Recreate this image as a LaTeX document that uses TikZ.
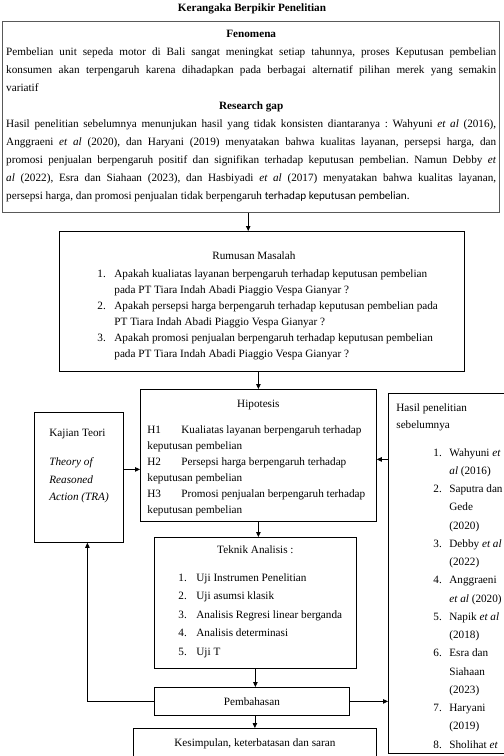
\documentclass[tikz,border=0pt]{standalone}
\usepackage{fontspec}
\setmainfont{Liberation Serif}
\newfontfamily\calibrifont{Carlito}
\usetikzlibrary{arrows.meta,positioning,calc}
\frenchspacing

% font size with a chosen line pitch
\newcommand{\setskip}[1]{\fontsize{11.2}{#1}\selectfont}
% fixed-size text body of a box (width, height, content)
\newcommand{\boxbody}[3]{\parbox[c][#2][t]{#1}{#3}}

\tikzset{
  panel/.style={draw, line width=0.8pt, anchor=north west, inner sep=0pt},
  arr/.style={-{Triangle[length=5pt,width=4.5pt]}, line width=0.8pt},
}

\begin{document}
\begin{tikzpicture}[x=1pt, y=-1pt, every node/.style={font=\setskip{16}}]
\useasboundingbox (0,0) rectangle (504,756);
\clip (0,0) rectangle (504,756);

% =================== title ===================
\node[font=\setskip{16}\bfseries] (title) at (252,9) {Kerangaka Berpikir Penelitian};

% =================== Fenomena / research gap ===================
\node[panel, draw=black!65, line width=1.4pt, inner xsep=3.5pt] (fen) at (2,21) {\boxbody{490pt}{191pt}{\setskip{18}\vspace*{8pt}%
{\centering\bfseries Fenomena\par}
Pembelian unit sepeda motor di Bali sangat meningkat setiap tahunnya, proses Keputusan pembelian\linebreak
konsumen akan terpengaruh karena dihadapkan pada berbagai alternatif pilihan merek yang semakin\linebreak
variatif\par
{\centering\bfseries Research gap\par}
Hasil penelitian sebelumnya menunjukan hasil yang tidak konsisten diantaranya : Wahyuni \textit{et al} (2016),\linebreak
Anggraeni \textit{et al} (2020), dan Haryani (2019) menyatakan bahwa kualitas layanan, persepsi harga, dan\linebreak
promosi penjualan berpengaruh positif dan signifikan terhadap keputusan pembelian. Namun Debby \textit{et}\linebreak
\textit{al} (2022), Esra dan Siahaan (2023), dan Hasbiyadi \textit{et al} (2017) menyatakan bahwa kualitas layanan,\linebreak
persepsi harga, dan promosi penjualan tidak berpengaruh {\calibrifont terhadap keputusan pembelian.}\par}};

% =================== Rumusan Masalah ===================
\node[panel] (rum) at (59,231) {\boxbody{405pt}{140pt}{\setskip{16}\vspace*{20pt}%
{\centering\hspace*{-16pt}Rumusan Masalah\par}
\vspace{2pt}
\hspace*{38pt}\makebox[17pt][l]{1.}Apakah kualiatas layanan berpengaruh terhadap keputusan pembelian\\
\hspace*{55pt}pada PT Tiara Indah Abadi Piaggio Vespa Gianyar ?\\
\hspace*{38pt}\makebox[17pt][l]{2.}Apakah persepsi harga berpengaruh terhadap keputusan pembelian pada\\
\hspace*{55pt}PT Tiara Indah Abadi Piaggio Vespa Gianyar ?\\
\hspace*{38pt}\makebox[17pt][l]{3.}Apakah promosi penjualan berpengaruh terhadap keputusan pembelian\\
\hspace*{55pt}pada PT Tiara Indah Abadi Piaggio Vespa Gianyar ?\par}};

% =================== Hipotesis ===================
\node[panel] (hip) at (140,389) {\boxbody{236pt}{132pt}{\setskip{16}\vspace*{11pt}%
{\centering Hipotesis\par}
\vspace{10pt}
\hspace*{7pt}\makebox[34pt][l]{H1}Kualiatas layanan berpengaruh terhadap\\
\hspace*{7pt}keputusan pembelian\\
\hspace*{7pt}\makebox[34pt][l]{H2}Persepsi harga berpengaruh terhadap\\
\hspace*{7pt}keputusan pembelian\\
\hspace*{7pt}\makebox[34pt][l]{H3}Promosi penjualan berpengaruh terhadap\\
\hspace*{7pt}keputusan pembelian\par}};

% =================== Kajian Teori (left) ===================
\node[panel] (kaj) at (34,412) {\boxbody{89pt}{130pt}{\setskip{17.5}\vspace*{17pt}%
\hspace*{15pt}Kajian Teori\par
\vspace{11.5pt}
\itshape
\hspace*{15pt}Theory of\\
\hspace*{15pt}Reasoned\\
\hspace*{15pt}Action (TRA)\par}};

% =================== Hasil penelitian sebelumnya (right) ===================
\node[panel] (has) at (388,393) {\boxbody{127pt}{360pt}{\setskip{17}\vspace*{10pt}%
\hspace*{8pt}Hasil penelitian\\
\hspace*{8pt}sebelumnya\par
\vspace{9.75pt}
\setskip{18.25}
\hspace*{45pt}\makebox[16pt][l]{1.}Wahyuni \textit{et}\\
\hspace*{61pt}\textit{al} (2016)\\
\hspace*{45pt}\makebox[16pt][l]{2.}Saputra dan\\
\hspace*{61pt}Gede\\
\hspace*{61pt}(2020)\\
\hspace*{45pt}\makebox[16pt][l]{3.}Debby \textit{et al}\\
\hspace*{61pt}(2022)\\
\hspace*{45pt}\makebox[16pt][l]{4.}Anggraeni\\
\hspace*{61pt}\textit{et al} (2020)\\
\hspace*{45pt}\makebox[16pt][l]{5.}Napik \textit{et al}\\
\hspace*{61pt}(2018)\\
\hspace*{45pt}\makebox[16pt][l]{6.}Esra dan\\
\hspace*{61pt}Siahaan\\
\hspace*{61pt}(2023)\\
\hspace*{45pt}\makebox[16pt][l]{7.}Haryani\\
\hspace*{61pt}(2019)\\
\hspace*{45pt}\makebox[16pt][l]{8.}Sholihat \textit{et}\par}};

% =================== Teknik Analisis ===================
\node[panel] (tek) at (154,537) {\boxbody{202pt}{131pt}{\setskip{18.5}\vspace*{8pt}%
{\centering Teknik Analisis :\par}
\vspace{9.5pt}
\hspace*{24pt}\makebox[18pt][l]{1.}Uji Instrumen Penelitian\\
\hspace*{24pt}\makebox[18pt][l]{2.}Uji asumsi klasik\\
\hspace*{24pt}\makebox[18pt][l]{3.}Analisis Regresi linear berganda\\
\hspace*{24pt}\makebox[18pt][l]{4.}Analisis determinasi\\
\hspace*{24pt}\makebox[18pt][l]{5.}Uji T\par}};

% =================== Pembahasan / Kesimpulan ===================
\node[panel, minimum width=195pt, minimum height=28pt] (pem) at (154,687) {Pembahasan};
\node[panel] (kes) at (133,728) {\boxbody{243pt}{50pt}{\setskip{16}\vspace*{10pt}%
{\centering Kesimpulan, keterbatasan dan saran\par}}};

% =================== arrows ===================
\draw[arr] ([xshift=-3pt]fen.south) -- ([xshift=-3pt]fen.south |- rum.north);
\draw[arr] (hip.north |- rum.south) -- (hip.north);
\draw[arr] ([yshift=8pt]kaj.east) -- ([yshift=8pt]kaj.east -| hip.west);
\draw[arr] ([yshift=-4pt]hip.east -| has.west) -- ([yshift=-4pt]hip.east);
\draw[arr] (hip.south) -- (hip.south |- tek.north);
\draw[arr] (tek.south) -- (tek.south |- pem.north);
\draw[arr] (kes.north |- pem.south) -- (kes.north);
% feedback to theory and to previous studies
\draw[arr] (pem.west) -| ([xshift=8.5pt]kaj.south);
\draw[arr] (pem.east) -- (pem.east -| has.west);

\end{tikzpicture}
\end{document}
